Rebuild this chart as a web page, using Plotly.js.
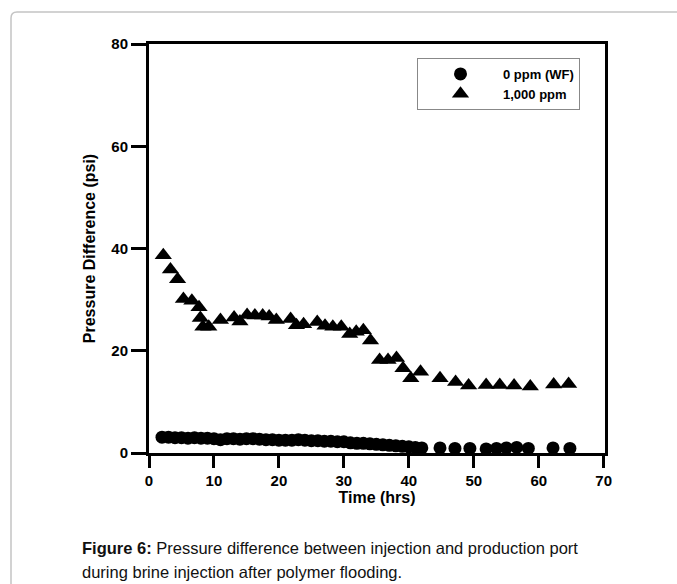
<!DOCTYPE html>
<html>
<head>
<meta charset="utf-8">
<script src="https://cdn.plot.ly/plotly-3.0.1.min.js"></script>
<style>html,body{margin:0;padding:0;background:#fff;}#chart{width:677px;height:584px;}</style>
</head>
<body>
<div id="chart"></div>
<script>
// 0 ppm (WF)
var wfTime = [2,3,4,5,6,7,8,9,10,11,12,13,14,15,16,17,18,19,20,21,22,23,24,25,26,27,28,29,30,31,32,33,34,35,36,37,38,39,40,41,42,44.8,47.1,49.4,51.9,53.5,55.0,56.6,58.4,62.2,64.8];
var wfDp   = [3.1,3.1,3.0,3.0,2.9,3.0,2.9,2.9,2.8,2.6,2.8,2.8,2.7,2.8,2.8,2.7,2.6,2.6,2.5,2.5,2.5,2.6,2.5,2.4,2.4,2.3,2.3,2.2,2.2,2.0,1.9,1.9,1.8,1.7,1.6,1.5,1.4,1.3,1.2,1.1,1.0,1.0,0.9,0.9,0.8,0.9,1.0,1.1,0.9,1.0,0.9];
// 1,000 ppm
var polyTime = [2.2,3.3,4.4,5.3,6.6,7.7,7.9,8.3,9.2,11.0,13.1,14.0,15.1,16.3,17.5,18.5,19.6,21.8,22.7,23.8,25.9,27.1,28.3,29.6,30.9,31.9,33.0,34.1,35.5,36.8,38.1,39.1,40.3,41.8,44.8,47.2,49.2,51.9,54.0,56.2,58.7,62.3,64.6];
var polyDp   = [38.7,35.9,34.0,30.1,29.8,28.5,26.4,24.7,24.7,26.0,26.5,25.7,27.0,26.9,26.9,26.7,26.0,26.2,25.0,25.2,25.6,24.9,24.7,24.7,23.3,23.7,24.0,22.0,18.2,18.2,18.6,16.6,14.6,15.9,14.6,13.9,13.2,13.3,13.3,13.2,13.0,13.4,13.5];
var seriesNames = ["0 ppm (WF)", "1,000 ppm"];
var xTicks = [0,10,20,30,40,50,60,70];
var yTicks = [0,20,40,60,80];

var F = "Liberation Sans, Arial, sans-serif";
var traces = [
  {x: wfTime, y: wfDp, name: seriesNames[0], type: "scatter", mode: "markers",
   marker: {symbol: "circle", size: 13, color: "#000"}, cliponaxis: false},
  {x: polyTime, y: polyDp, name: seriesNames[1], type: "scatter", mode: "markers",
   marker: {symbol: "triangle-up", size: 15, color: "#000"}, cliponaxis: false}
];

function px2x(p){ return (p-149)/456; }
function py2y(p){ return (453-p)/409; }

var rx = 6/456, ry = 6/409;
var x0 = px2x(11), yt = py2y(12), yb = py2y(620), x1 = px2x(700);
var boxPath = "M " + x0 + "," + yb + " L " + x0 + "," + (yt-ry) + " Q " + x0 + "," + yt + " " + (x0+rx) + "," + yt + " L " + x1 + "," + yt;

var layout = {
  width: 677, height: 584,
  margin: {l: 149, r: 72, t: 44, b: 131},
  paper_bgcolor: "#fff", plot_bgcolor: "#fff",
  showlegend: true,
  font: {family: F, color: "#000"},
  xaxis: {
    range: [0, 70.2], tickvals: xTicks, ticktext: xTicks.map(String),
    showgrid: false, zeroline: false, showline: true, linewidth: 3, linecolor: "#000",
    mirror: true, ticks: "outside", ticklen: 12, tickwidth: 3, tickcolor: "#000",
    tickfont: {family: F, size: 15, color: "#000", weight: "bold"},
    title: {text: "<b>Time (hrs)</b>", font: {family: F, size: 16, color: "#000"}, standoff: 0}
  },
  yaxis: {
    range: [0, 80], tickvals: yTicks, ticktext: yTicks.map(String),
    showgrid: false, zeroline: false, showline: true, linewidth: 3, linecolor: "#000",
    mirror: true, ticks: "outside", ticklen: 15, tickwidth: 3, tickcolor: "#000",
    tickfont: {family: F, size: 15, color: "#000", weight: "bold"},
    title: {text: "<b>Pressure Difference (psi)</b>", font: {family: F, size: 16, color: "#000"}, standoff: 12}
  },
  legend: {
    x: px2x(417), y: py2y(58), xanchor: "left", yanchor: "top",
    bordercolor: "#888", borderwidth: 1, bgcolor: "#fff",
    font: {family: F, size: 13, color: "#000", weight: "bold"},
    itemwidth: 75, tracegroupgap: 0
  },
  shapes: [
    {type: "path", xref: "paper", yref: "paper", path: boxPath, line: {color: "#c4c4c4", width: 1.5}}
  ],
  annotations: [
    {xref: "paper", yref: "paper", x: px2x(80), y: py2y(548), xanchor: "left", yanchor: "middle",
     showarrow: false, align: "left",
     text: "<b>Figure 6:</b> Pressure difference between injection and production port",
     font: {family: F, size: 16.5, color: "#111"}},
    {xref: "paper", yref: "paper", x: px2x(80), y: py2y(572), xanchor: "left", yanchor: "middle",
     showarrow: false, align: "left",
     text: "during brine injection after polymer flooding.",
     font: {family: F, size: 16.5, color: "#111"}}
  ]
};

Plotly.newPlot("chart", traces, layout, {displayModeBar: false, staticPlot: true});
</script>
</body>
</html>
